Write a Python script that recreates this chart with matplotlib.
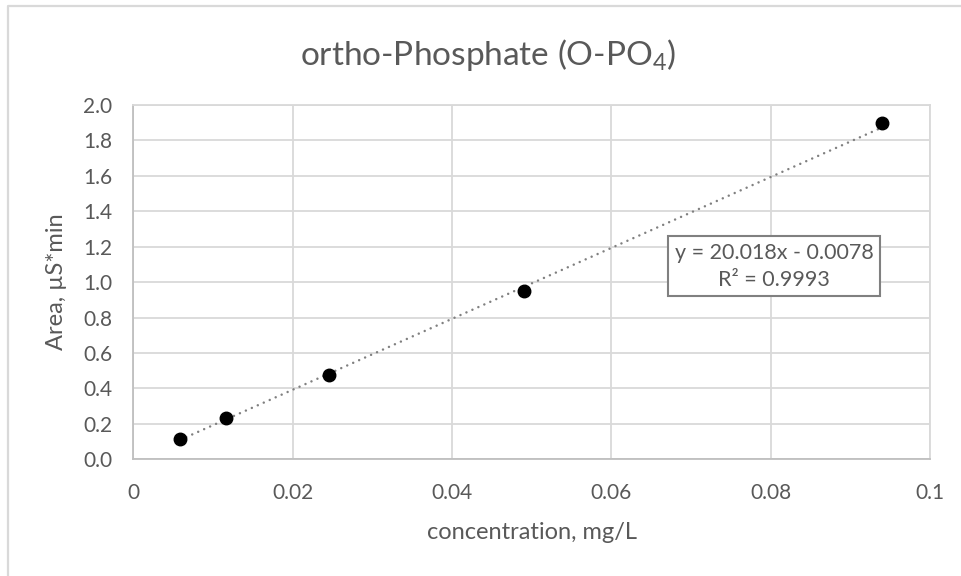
import numpy as np
import matplotlib
matplotlib.use("Agg")
import matplotlib.pyplot as plt
from matplotlib.lines import Line2D

plt.rcParams['font.family'] = ['Lato', 'DejaVu Sans']
plt.rcParams['mathtext.fontset'] = 'custom'
plt.rcParams['mathtext.rm'] = 'Lato'

# data
conc = [0.0059, 0.0116, 0.0246, 0.0490, 0.0940]
area = [0.114, 0.234, 0.477, 0.950, 1.897]
slope = 20.018
intercept = -0.0078
r2 = 0.9993
x_ticks = [0, 0.02, 0.04, 0.06, 0.08, 0.1]
x_tick_labels = ['0', '0.02', '0.04', '0.06', '0.08', '0.1']
y_ticks = [0.0, 0.2, 0.4, 0.6, 0.8, 1.0, 1.2, 1.4, 1.6, 1.8, 2.0]

text_col = '#595959'
grid_col = '#D9D9D9'

fig = plt.figure(figsize=(9.61, 5.76), dpi=100)
ax = fig.add_axes([0.1387, 0.2026, 0.8291, 0.6151])

# trendline
xs = np.array([min(conc), max(conc)])
ax.plot(xs, slope * xs + intercept, color='#808080', lw=1.8,
        linestyle=(0, (0.01, 2.6)), dash_capstyle='round', zorder=2)
ax.plot(conc, area, 'o', color='black', ms=9, zorder=3)

ax.set_xlim(0, 0.1)
ax.set_ylim(0, 2.0)
ax.set_xticks(x_ticks)
ax.set_xticklabels(x_tick_labels)
ax.set_yticks(y_ticks)
ax.set_yticklabels([f'{v:.1f}' for v in y_ticks])
ax.tick_params(length=0, labelsize=15, colors=text_col)
ax.tick_params(axis='x', pad=17)
ax.tick_params(axis='y', pad=15)
ax.grid(True, color=grid_col, lw=1.3)
ax.set_axisbelow(True)
for s in ['left', 'bottom']:
    ax.spines[s].set_color('#BFBFBF')
    ax.spines[s].set_linewidth(1.3)
for s in ['top', 'right']:
    ax.spines[s].set_color(grid_col)
    ax.spines[s].set_linewidth(1.3)

ax.set_xlabel('concentration, mg/L', fontsize=17, color=text_col, labelpad=14)
ax.set_ylabel('Area, µS*min', fontsize=17, color=text_col, labelpad=12)

ax.text(0.804, 0.545, f'y = {slope:.3f}x - {abs(intercept):.4f}\nR² = {r2:.4f}',
        transform=ax.transAxes, ha='center', va='center', fontsize=15.5,
        color=text_col, linespacing=1.45,
        bbox=dict(boxstyle='square,pad=0.3', fc='white', ec='#808080', lw=1.5))

fig.text(488 / 961, 1 - 55 / 576, 'ortho-Phosphate (O-PO$_4$)', ha='center',
         va='center', fontsize=24, color=text_col)

# chart border
fig.add_artist(Line2D([8 / 961, 8 / 961, 1.0], [0.0, 1 - 6 / 576, 1 - 6 / 576],
                      transform=fig.transFigure, color=grid_col, lw=1.6))

fig.savefig('out.png', dpi=100)
